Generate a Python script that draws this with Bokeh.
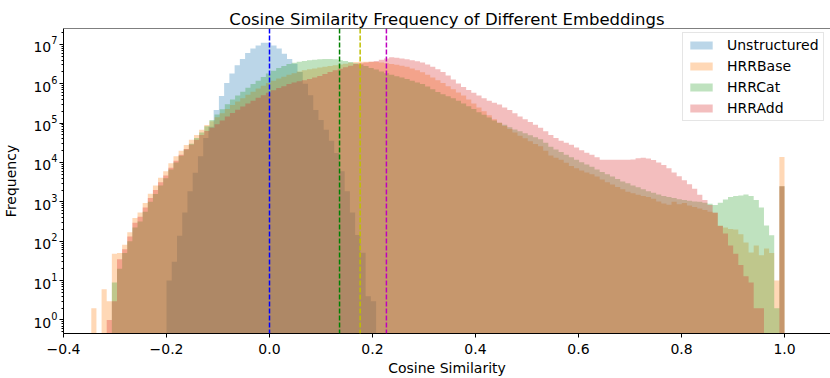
import numpy as np
from bokeh.plotting import figure
from bokeh.models import Range1d, FixedTicker, LogTickFormatter, Span
from bokeh.embed import file_html
from bokeh.resources import INLINE

# ---------------- data (histogram counts) ----------------
series_names = ["Unstructured", "HRRBase", "HRRCat", "HRRAdd"]
series_colors = ["#1f77b4", "#ff7f0e", "#2ca02c", "#d62728"]

# Unstructured: 40 bins spanning [-0.200, 0.207]
unstructured_range = (-0.200, 0.207)
unstructured_counts = [
    10, 30, 138, 537, 1860, 5500, 14500, 42000, 81000, 214000,
    490000, 1050000, 1820000, 2950000, 4270000, 6000000, 7800000, 9300000, 11000000, 11000000,
    9300000, 7800000, 5750000, 4270000, 3240000, 2000000, 1000000, 510000, 214000, 120000,
    68000, 35500, 17400, 6000, 1860, 537, 145, 51, 4, 3,
]

# HRR embeddings: 135 bins spanning [-0.346, 1.000]
hrr_range = (-0.346, 1.000)
hrr_base_counts = [
    2, 0, 6, 3, 48, 50, 81, 170, 390, 540,
    930, 1600, 2600, 4100, 6000, 9500, 14500, 20000, 28000, 38000,
    50000, 68000, 89000, 112000, 141000, 178000, 230000, 290000, 355000, 430000,
    525000, 630000, 760000, 890000, 1050000, 1200000, 1350000, 1510000, 1700000, 1860000,
    2040000, 2190000, 2340000, 2450000, 2570000, 2690000, 2820000, 2950000, 3090000, 3240000,
    3390000, 3550000, 3630000, 3630000, 3630000, 3550000, 3470000, 3310000, 3160000, 3020000,
    2880000, 2690000, 2450000, 2190000, 1950000, 1700000, 1450000, 1230000, 1050000, 870000,
    720000, 600000, 500000, 400000, 316000, 250000, 200000, 158000, 126000, 102000,
    85000, 71000, 57500, 48000, 41000, 34700, 29500, 25700, 20000, 15100,
    13200, 11700, 9800, 8100, 7100, 6300, 5600, 5000, 4400, 3700,
    3160, 2750, 2400, 2100, 1820, 1660, 1510, 1410, 1320, 1200,
    1020, 910, 850, 1000, 870, 930, 810, 740, 680, 620,
    560, 525, 250, 224, 204, 200, 151, 93, 52, 78,
    44, 65, 50, 10, 13800,
]
hrr_cat_counts = [
    0, 0, 0, 0, 9, 20, 50, 100, 224, 316,
    560, 1000, 1580, 2600, 4000, 6600, 10000, 14800, 21400, 30000,
    42000, 57500, 83000, 120000, 166000, 224000, 300000, 400000, 500000, 630000,
    790000, 980000, 1200000, 1480000, 1820000, 2140000, 2510000, 2820000, 3160000, 3390000,
    3630000, 3800000, 3980000, 4070000, 4170000, 4270000, 4270000, 4170000, 3980000, 3800000,
    3550000, 3310000, 3090000, 2820000, 2510000, 2290000, 2040000, 1860000, 1700000, 1550000,
    1450000, 1320000, 1200000, 1070000, 980000, 850000, 720000, 620000, 540000, 480000,
    430000, 370000, 316000, 270000, 230000, 190000, 162000, 138000, 117000, 102000,
    91000, 79000, 69000, 62000, 55000, 49000, 44000, 39000, 31600, 25000,
    21400, 18600, 15800, 13500, 11700, 10200, 8900, 7800, 6600, 5750,
    5000, 4400, 3800, 3300, 2950, 2600, 2340, 2100, 1860, 1700,
    1550, 1410, 1320, 1260, 1170, 1120, 1070, 1020, 1000, 955,
    890, 830, 955, 1150, 1320, 1410, 1450, 1550, 1410, 1120,
    724, 251, 141, 2, 2500,
]
hrr_add_counts = [
    0, 0, 0, 1, 3, 35, 63, 132, 295, 417,
    724, 1260, 2000, 3160, 4700, 7400, 11000, 15800, 21900, 28800,
    38000, 50000, 63000, 76000, 93000, 117000, 148000, 182000, 219000, 263000,
    316000, 370000, 440000, 510000, 590000, 680000, 780000, 870000, 980000, 1070000,
    1150000, 1230000, 1320000, 1450000, 1580000, 1780000, 2000000, 2190000, 2400000, 2630000,
    2880000, 3160000, 3310000, 3470000, 3630000, 3800000, 4070000, 4370000, 4680000, 4570000,
    4370000, 4170000, 3980000, 3720000, 3470000, 3090000, 2690000, 2340000, 2000000, 1620000,
    1290000, 1020000, 830000, 690000, 590000, 500000, 430000, 370000, 330000, 295000,
    250000, 214000, 178000, 148000, 126000, 107000, 91000, 76000, 62000, 50000,
    42000, 35500, 31600, 28200, 24000, 20400, 17800, 15800, 13500, 11700,
    11700, 11700, 11700, 11700, 11700, 12000, 12900, 13200, 12600, 11500,
    10000, 8700, 7100, 5600, 4500, 3550, 2800, 2140, 1510, 1120,
    830, 537, 245, 158, 78, 48, 25, 13, 9, 2,
    2, 0, 0, 0, 2500,
]

# mean cosine similarity markers (dashed verticals)
mean_values = [0.0, 0.136, 0.176, 0.227]
mean_colors = ["#0000ff", "#008000", "#bfbf00", "#bf00bf"]

x_ticks = [-0.4, -0.2, 0.0, 0.2, 0.4, 0.6, 0.8, 1.0]
x_tick_labels = ["\u22120.4", "\u22120.2", "0.0", "0.2", "0.4", "0.6", "0.8", "1.0"]
y_decades = [1, 10, 100, 1000, 10000, 100000, 1000000, 10000000]

# ---------------- plot ----------------
FONT = "DejaVu Sans"
FLOOR = 1e-2  # baseline below visible range on the log axis
Y_TOP = 2.53e7

p = figure(
    width=830, height=378,
    output_backend="svg", toolbar_location=None,
    x_range=Range1d(-0.4, 1.0893), y_range=Range1d(0.454, Y_TOP),
    y_axis_type="log",
    min_border_left=63, min_border_right=0, min_border_top=28, min_border_bottom=43,
    title="Cosine Similarity Frequency of Different Embeddings",
)
p.background_fill_color = "white"
p.border_fill_color = "white"
p.outline_line_color = None
p.xgrid.visible = False
p.ygrid.visible = False


def step_outline(edges, counts):
    xs, ys = [edges[0]], [FLOOR]
    for i, c in enumerate(counts):
        h = c if c > 0 else FLOOR
        xs += [edges[i], edges[i + 1]]
        ys += [h, h]
    xs.append(edges[-1])
    ys.append(FLOOR)
    return xs, ys


all_ranges = [unstructured_range, hrr_range, hrr_range, hrr_range]
all_counts = [unstructured_counts, hrr_base_counts, hrr_cat_counts, hrr_add_counts]
for name, color, (lo, hi), counts in zip(series_names, series_colors, all_ranges, all_counts):
    edges = np.linspace(lo, hi, len(counts) + 1)
    xs, ys = step_outline(list(edges), counts)
    p.patch(xs, ys, fill_color=color, fill_alpha=0.3, line_color=None, legend_label=name)

for m, c in zip(mean_values, mean_colors):
    p.add_layout(Span(location=m, dimension="height", line_color=c,
                      line_dash="5 2", line_width=1.5))

# top spine (the right spine lies outside the visible area in the reference)
p.add_layout(Span(location=Y_TOP, dimension="width", line_color="black", line_width=1))

# title
p.title.text_font = FONT
p.title.text_font_size = "16.5px"
p.title.text_font_style = "normal"
p.title.text_color = "black"
p.title.align = "center"
p.title.standoff = -1
p.title.offset = 2

# axes
for ax in (p.xaxis[0], p.yaxis[0]):
    ax.axis_line_color = "black"
    ax.major_tick_line_color = "black"
    ax.major_tick_in = 0
    ax.major_tick_out = 4
    ax.major_label_text_font = FONT
    ax.major_label_text_font_size = "14px"
    ax.major_label_text_color = "black"
    ax.axis_label_text_font = FONT
    ax.axis_label_text_font_size = "14px"
    ax.axis_label_text_font_style = "normal"
    ax.axis_label_text_color = "black"

p.xaxis.ticker = FixedTicker(ticks=x_ticks)
p.xaxis.major_label_overrides = {t: l for t, l in zip(x_ticks, x_tick_labels)}
p.xaxis.minor_tick_line_color = None
p.xaxis.major_label_standoff = 6
p.xaxis.axis_label = "Cosine Similarity"
p.xaxis.axis_label_standoff = 3

minor = [m * d for d in [0.1] + y_decades for m in range(2, 10)]
p.yaxis.ticker = FixedTicker(ticks=y_decades, minor_ticks=minor)
p.yaxis.formatter = LogTickFormatter()
p.yaxis.major_label_standoff = 2
p.yaxis.minor_tick_in = 0
p.yaxis.minor_tick_out = 2
p.yaxis.minor_tick_line_color = "black"
p.yaxis.axis_label = "Frequency"
p.yaxis.axis_label_standoff = 11

# legend (bottom-left corner given relative to the plot frame)
lg = p.legend[0]
lg.location = (619, 212)
lg.padding = 4
lg.spacing = 5
lg.label_height = 16
lg.glyph_height = 10
lg.glyph_width = 28
lg.label_standoff = 12
lg.label_text_font = FONT
lg.label_text_font_size = "14px"
lg.label_text_color = "black"
lg.border_line_color = "#cccccc"
lg.border_line_width = 1
lg.background_fill_alpha = 0.8

open("out.html", "w").write(file_html(p, INLINE))
